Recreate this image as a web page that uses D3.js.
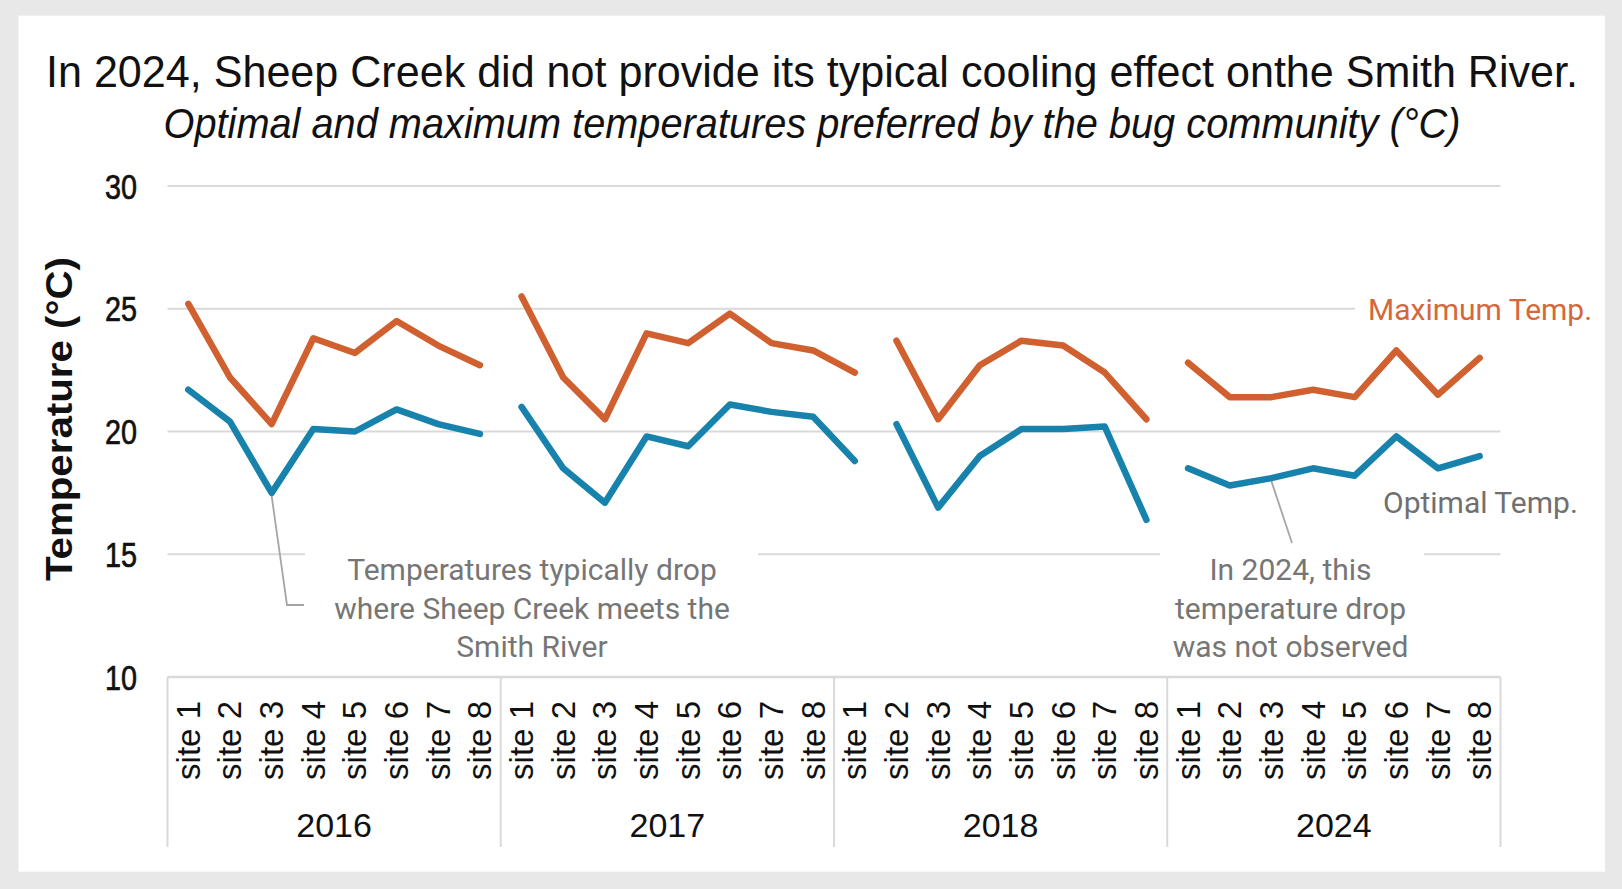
<!DOCTYPE html>
<html>
<head>
<meta charset="utf-8">
<script src="https://cdn.jsdelivr.net/npm/d3@7"></script>
<style>
  body { margin: 0; background: #e8e8e8; }
  svg { display: block; }
</style>
</head>
<body>
<svg id="chart" width="1622" height="889"></svg>
<script>
// categories
var years = ["2016", "2017", "2018", "2024"];
var sites = ["site 1", "site 2", "site 3", "site 4", "site 5", "site 6", "site 7", "site 8"];
var yTicks = [10, 15, 20, 25, 30];

// maximum temperature by site, one array per year
var maxTemp2016 = [25.2, 22.2, 20.3, 23.8, 23.2, 24.5, 23.5, 22.7];
var maxTemp2017 = [25.5, 22.2, 20.5, 24.0, 23.6, 24.8, 23.6, 23.3];
var maxTemp2018 = [22.4, 23.7, 20.5, 22.7, 23.7, 23.5, 22.4, 20.5];
var maxTemp2024 = [22.8, 21.4, 21.4, 21.7, 21.4, 23.3, 21.5, 23.0];

// optimal temperature by site
var optTemp2016 = [21.7, 20.4, 17.5, 20.1, 20.0, 20.9, 20.3, 19.9];
var optTemp2017 = [21.0, 18.5, 17.1, 19.8, 19.4, 21.1, 20.8, 20.6];
var optTemp2018 = [18.8, 20.3, 16.9, 19.0, 20.1, 20.1, 20.2, 16.4];
var optTemp2024 = [18.5, 17.8, 18.1, 18.5, 18.2, 19.8, 18.5, 19.0];

// the line pieces as they are drawn in the source (first and last category index)
var segments = [[0, 7], [8, 16], [17, 23], [24, 31]];

var title = "In 2024, Sheep Creek did not provide its typical cooling effect onthe Smith River.";
var subtitle = "Optimal and maximum temperatures preferred by the bug community (\u00b0C)";
var note1 = ["Temperatures typically drop", "where Sheep Creek meets the", "Smith River"];
var note2 = ["In 2024, this", "temperature drop", "was not observed"];

var orange = "#d0602f", blue = "#1783ad", grid = "#d9d9d9";
var narrow = "'Liberation Sans Narrow', 'Arial Narrow', 'Liberation Sans', Arial, sans-serif";
var arial = "'Liberation Sans', Arial, sans-serif";
var roboto = "Roboto, 'Noto Sans', sans-serif";

var maxTemp = [].concat(maxTemp2016, maxTemp2017, maxTemp2018, maxTemp2024);
var optTemp = [].concat(optTemp2016, optTemp2017, optTemp2018, optTemp2024);
var categories = [];
years.forEach(function(yr) {
	sites.forEach(function(s) { categories.push(yr + "|" + s); });
});

var plotLeft = 167.5, plotRight = 1500.5, plotTop = 186, plotBottom = 677;

var x = d3.scaleBand().domain(categories).range([plotLeft, plotRight]);
var y = d3.scaleLinear().domain([10, 30]).range([plotBottom, plotTop]);
function cx(i) { return x(categories[i]) + x.bandwidth() / 2; }

var svg = d3.select("#chart");

svg.append("rect")
	.attr("x", 18.5).attr("y", 15.7)
	.attr("width", 1605 - 18.5).attr("height", 871.7 - 15.7)
	.attr("fill", "#fff");

// titles
svg.append("text")
	.attr("x", 812).attr("y", 87)
	.attr("text-anchor", "middle")
	.attr("textLength", 1532).attr("lengthAdjust", "spacingAndGlyphs")
	.style("font-family", narrow).style("font-size", "44px").style("fill", "#111")
	.text(title);
svg.append("text")
	.attr("x", 812).attr("y", 138)
	.attr("text-anchor", "middle")
	.attr("textLength", 1297).attr("lengthAdjust", "spacingAndGlyphs")
	.style("font-family", narrow).style("font-size", "42px").style("font-style", "italic").style("fill", "#111")
	.text(subtitle);

// gridlines
svg.append("g").selectAll("line")
	.data(yTicks.slice(1))
	.enter().append("line")
	.attr("x1", plotLeft).attr("x2", plotRight)
	.attr("y1", function(d) { return y(d); })
	.attr("y2", function(d) { return y(d); })
	.attr("stroke", grid).attr("stroke-width", 2);

// y axis labels
var yAxis = svg.append("g")
	.attr("transform", "translate(137,0)")
	.call(d3.axisLeft(y).tickValues(yTicks).tickSize(0).tickPadding(0));
yAxis.select(".domain").remove();
yAxis.selectAll("text")
	.attr("dy", null).attr("y", 12)
	.attr("textLength", 32).attr("lengthAdjust", "spacingAndGlyphs")
	.style("font-family", narrow).style("font-size", "35px").style("fill", "#111")
	.style("stroke", "#111").style("stroke-width", 0.7);

svg.append("text")
	.attr("transform", "translate(72,419) rotate(-90)")
	.attr("text-anchor", "middle")
	.attr("textLength", 324).attr("lengthAdjust", "spacingAndGlyphs")
	.style("font-family", arial).style("font-size", "37px").style("font-weight", "bold").style("fill", "#111")
	.text("Temperature (\u00b0C)");

// x axis: sites and years
var xAxis = svg.append("g")
	.attr("transform", "translate(0," + plotBottom + ")")
	.call(d3.axisBottom(x).tickSize(0).tickFormat(function(d) { return d.split("|")[1]; }));
xAxis.select(".domain")
	.attr("stroke", grid).attr("stroke-width", 2.5)
	.attr("d", "M" + plotLeft + ",0H" + plotRight);
xAxis.selectAll("text")
	.attr("transform", "rotate(-90)")
	.attr("x", -24).attr("y", 11.5).attr("dy", null)
	.attr("text-anchor", "end")
	.style("font-family", arial).style("font-size", "33px").style("fill", "#111");

var groupW = (plotRight - plotLeft) / years.length;
svg.append("g").selectAll("line")
	.data(d3.range(years.length + 1))
	.enter().append("line")
	.attr("x1", function(i) { return plotLeft + i * groupW; })
	.attr("x2", function(i) { return plotLeft + i * groupW; })
	.attr("y1", plotBottom).attr("y2", 847)
	.attr("stroke", grid).attr("stroke-width", 2);

svg.append("g").selectAll("text")
	.data(years)
	.enter().append("text")
	.attr("x", function(d, i) { return plotLeft + (i + 0.5) * groupW; })
	.attr("y", 837)
	.attr("text-anchor", "middle")
	.style("font-family", arial).style("font-size", "34px").style("fill", "#111")
	.text(function(d) { return d; });

// white boxes behind labels that cut the gridlines
var boxes = [[305, 545, 453, 125], [1160, 545, 264, 125], [1355, 290, 245, 36]];
svg.append("g").selectAll("rect")
	.data(boxes)
	.enter().append("rect")
	.attr("x", function(b) { return b[0]; }).attr("y", function(b) { return b[1]; })
	.attr("width", function(b) { return b[2]; }).attr("height", function(b) { return b[3]; })
	.attr("fill", "#fff");

// leader lines
var p1 = [cx(2), y(optTemp[2])], p2 = [cx(26), y(optTemp[26])];
svg.append("path")
	.attr("d", "M" + p1[0] + "," + (p1[1] + 3) + "L287,605L304,605")
	.attr("fill", "none").attr("stroke", "#a6a6a6").attr("stroke-width", 1.8);
svg.append("path")
	.attr("d", "M" + p2[0] + "," + (p2[1] + 3) + "L1292,543")
	.attr("fill", "none").attr("stroke", "#a6a6a6").attr("stroke-width", 1.8);

// series lines
var line = d3.line()
	.x(function(d) { return cx(d.i); })
	.y(function(d) { return y(d.v); });

function drawSeries(values, color) {
	segments.forEach(function(seg) {
		var pts = d3.range(seg[0], seg[1] + 1).map(function(i) { return {i: i, v: values[i]}; });
		svg.append("path")
			.datum(pts)
			.attr("d", line)
			.attr("fill", "none")
			.attr("stroke", color)
			.attr("stroke-width", 6.5)
			.attr("stroke-linejoin", "round")
			.attr("stroke-linecap", "round");
	});
}
drawSeries(maxTemp, orange);
drawSeries(optTemp, blue);

// series labels
svg.append("text")
	.attr("x", 1368).attr("y", 320)
	.style("font-family", roboto).style("font-size", "30px").style("fill", "#d4683a")
	.text("Maximum Temp.");
svg.append("text")
	.attr("x", 1383).attr("y", 513)
	.style("font-family", roboto).style("font-size", "30px").style("fill", "#707070")
	.text("Optimal Temp.");

// notes
function drawNote(lines, cxPos) {
	svg.append("g").selectAll("text")
		.data(lines)
		.enter().append("text")
		.attr("x", cxPos)
		.attr("y", function(d, i) { return 580 + i * 38.5; })
		.attr("text-anchor", "middle")
		.style("font-family", roboto).style("font-size", "30px").style("fill", "#767676")
		.text(function(d) { return d; });
}
drawNote(note1, 532);
drawNote(note2, 1290.5);
</script>
</body>
</html>
